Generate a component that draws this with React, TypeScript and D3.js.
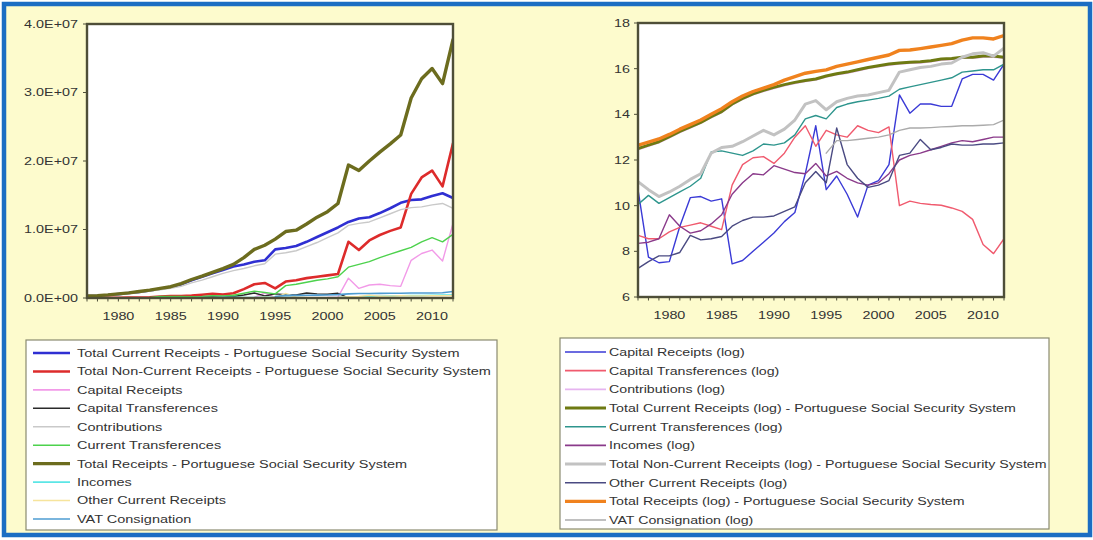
import React from "react";
import * as d3 from "d3";

// ---- categories -------------------------------------------------------------
const YEARS = [
  1977, 1978, 1979, 1980, 1981, 1982, 1983, 1984, 1985, 1986, 1987, 1988,
  1989, 1990, 1991, 1992, 1993, 1994, 1995, 1996, 1997, 1998, 1999, 2000,
  2001, 2002, 2003, 2004, 2005, 2006, 2007, 2008, 2009, 2010, 2011, 2012,
];
const X_TICKS = [1980, 1985, 1990, 1995, 2000, 2005, 2010];

// ---- levels (millions) ------------------------------------------------------
const totalCurrentReceipts = [0.28, 0.33, 0.43, 0.57, 0.72, 0.9, 1.1, 1.35, 1.6, 2.0, 2.6, 3.1, 3.6, 4.1, 4.6, 4.9, 5.3, 5.5, 7.1, 7.3, 7.6, 8.2, 8.9, 9.6, 10.3, 11.1, 11.6, 11.8, 12.4, 13.1, 13.9, 14.3, 14.4, 14.9, 15.3, 14.6];
const totalNonCurrentReceipts = [0.06, 0.05, 0.04, 0.04, 0.05, 0.07, 0.1, 0.22, 0.28, 0.3, 0.36, 0.47, 0.6, 0.5, 0.7, 1.3, 2.0, 2.2, 1.4, 2.4, 2.6, 2.9, 3.1, 3.3, 3.5, 8.2, 7.0, 8.4, 9.2, 9.8, 10.3, 15.2, 17.6, 18.6, 16.3, 22.6];
const capitalReceipts = [0.04, 0, 0, 0, 0.01, 0.03, 0.03, 0.03, 0.03, 0, 0, 0, 0.01, 0.01, 0.01, 0.02, 0.09, 0.73, 0.04, 0.08, 0.04, 0.01, 0.05, 0.07, 0.13, 2.9, 1.4, 1.9, 2.0, 1.8, 1.7, 5.5, 6.5, 7.0, 5.4, 10.9];
const capitalTransferences = [0.006, 0.005, 0.005, 0.007, 0.008, 0.009, 0.01, 0.009, 0.008, 0.05, 0.13, 0.18, 0.19, 0.14, 0.22, 0.44, 0.73, 0.3, 0.6, 0.49, 0.44, 0.73, 0.6, 0.54, 0.69, 0.02, 0.03, 0.02, 0.02, 0.02, 0.02, 0.01, 0.01, 0.004, 0.003, 0.005];
const contributions = [0.25, 0.3, 0.4, 0.52, 0.66, 0.82, 1.0, 1.2, 1.4, 1.7, 2.2, 2.6, 3.1, 3.6, 4.0, 4.3, 4.7, 5.0, 6.4, 6.6, 6.9, 7.5, 8.1, 8.8, 9.5, 10.6, 10.9, 11.1, 11.7, 12.3, 12.9, 13.2, 13.3, 13.6, 13.8, 13.1];
const currentTransferences = [0.02, 0.03, 0.02, 0.03, 0.04, 0.05, 0.08, 0.24, 0.24, 0.22, 0.2, 0.24, 0.33, 0.31, 0.4, 0.7, 1.0, 0.8, 0.6, 1.8, 2.0, 2.3, 2.6, 2.8, 3.1, 4.5, 4.9, 5.3, 5.9, 6.4, 6.9, 7.4, 8.2, 8.8, 8.2, 9.3];
const totalReceipts = [0.3, 0.35, 0.45, 0.6, 0.75, 0.95, 1.15, 1.4, 1.65, 2.1, 2.7, 3.2, 3.75, 4.3, 4.9, 5.9, 7.1, 7.7, 8.6, 9.7, 9.9, 10.8, 11.8, 12.6, 13.8, 19.4, 18.6, 20.0, 21.3, 22.5, 23.8, 29.2, 32.0, 33.5, 31.3, 37.7];
const incomes = [0.004, 0.005, 0.005, 0.015, 0.009, 0.007, 0.007, 0.01, 0.015, 0.036, 0.06, 0.09, 0.085, 0.13, 0.11, 0.094, 0.09, 0.14, 0.08, 0.1, 0.073, 0.06, 0.054, 0.06, 0.09, 0.16, 0.2, 0.22, 0.25, 0.3, 0.34, 0.38, 0.36, 0.4, 0.44, 0.44];
const otherCurrentReceipts = [0.001, 0.002, 0.002, 0.002, 0.003, 0.006, 0.005, 0.005, 0.006, 0.009, 0.011, 0.013, 0.013, 0.014, 0.017, 0.021, 0.06, 0.1, 0.06, 0.66, 0.13, 0.07, 0.05, 0.05, 0.07, 0.2, 0.22, 0.4, 0.25, 0.28, 0.33, 0.31, 0.31, 0.33, 0.33, 0.34];
const vatConsignation = [null, null, null, null, null, null, null, null, null, null, null, null, null, null, null, null, null, null, 0.22, 0.38, 0.38, 0.4, 0.42, 0.44, 0.49, 0.6, 0.66, 0.66, 0.67, 0.69, 0.7, 0.73, 0.73, 0.74, 0.76, 0.94];

const LEVEL_TICKS = [0, 10, 20, 30, 40];
const LEVEL_TICK_LABELS = ["0.0E+00", "1.0E+07", "2.0E+07", "3.0E+07", "4.0E+07"];

// ---- natural logs -----------------------------------------------------------
const capitalReceiptsLog = [10.7, 7.75, 7.5, 7.55, 9.1, 10.35, 10.4, 10.2, 10.3, 7.45, 7.6, 8.0, 8.4, 8.8, 9.3, 9.7, 11.4, 13.5, 10.7, 11.3, 10.5, 9.5, 10.9, 11.1, 11.8, 14.85, 14.05, 14.45, 14.45, 14.35, 14.35, 15.55, 15.75, 15.75, 15.5, 16.2];
const capitalTransferencesLog = [8.7, 8.55, 8.55, 8.85, 9.05, 9.15, 9.25, 9.1, 8.95, 10.9, 11.8, 12.1, 12.15, 11.85, 12.3, 13.0, 13.5, 12.6, 13.3, 13.1, 13.0, 13.5, 13.3, 13.2, 13.45, 10.0, 10.2, 10.1, 10.05, 10.02, 9.9, 9.75, 9.4, 8.3, 7.9, 8.55];
const contributionsLog = [12.45, 12.6, 12.75, 12.97, 13.2, 13.4, 13.6, 13.85, 14.07, 14.4, 14.65, 14.85, 15.0, 15.13, 15.25, 15.35, 15.43, 15.5, 15.63, 15.73, 15.8, 15.9, 16.0, 16.08, 16.15, 16.2, 16.23, 16.25, 16.3, 16.37, 16.4, 16.45, 16.45, 16.5, 16.5, 16.45];
const totalCurrentReceiptsLog = [12.5, 12.65, 12.8, 13.02, 13.25, 13.45, 13.65, 13.9, 14.12, 14.45, 14.7, 14.9, 15.05, 15.18, 15.3, 15.4, 15.48, 15.55, 15.68, 15.78, 15.85, 15.95, 16.05, 16.13, 16.2, 16.25, 16.28, 16.3, 16.35, 16.42, 16.45, 16.5, 16.5, 16.55, 16.55, 16.5];
const currentTransferencesLog = [10.05, 10.45, 10.1, 10.35, 10.6, 10.85, 11.2, 12.35, 12.4, 12.3, 12.2, 12.4, 12.7, 12.65, 12.75, 13.1, 13.8, 13.95, 13.8, 14.3, 14.45, 14.55, 14.62, 14.7, 14.8, 15.1, 15.2, 15.3, 15.4, 15.5, 15.6, 15.85, 15.9, 15.95, 15.95, 16.2];
const incomesLog = [8.35, 8.4, 8.55, 9.6, 9.1, 8.8, 8.9, 9.2, 9.6, 10.5, 11.0, 11.4, 11.35, 11.75, 11.6, 11.45, 11.4, 11.85, 11.3, 11.5, 11.2, 11.0, 10.9, 11.0, 11.4, 12.0, 12.2, 12.3, 12.45, 12.6, 12.75, 12.85, 12.8, 12.9, 13.0, 13.0];
const totalNonCurrentReceiptsLog = [11.05, 10.7, 10.4, 10.6, 10.85, 11.15, 11.4, 12.3, 12.55, 12.6, 12.8, 13.05, 13.3, 13.1, 13.35, 13.75, 14.45, 14.6, 14.2, 14.55, 14.7, 14.8, 14.85, 14.95, 15.05, 15.85, 15.95, 16.05, 16.1, 16.2, 16.25, 16.5, 16.65, 16.7, 16.55, 16.9];
const otherCurrentReceiptsLog = [7.25, 7.55, 7.8, 7.8, 7.95, 8.7, 8.5, 8.55, 8.65, 9.1, 9.35, 9.5, 9.5, 9.55, 9.75, 9.95, 11.0, 11.5, 11.0, 13.4, 11.8, 11.2, 10.8, 10.9, 11.1, 12.2, 12.3, 12.9, 12.45, 12.55, 12.7, 12.65, 12.65, 12.7, 12.7, 12.75];
const totalReceiptsLog = [12.65, 12.78, 12.92, 13.12, 13.35, 13.55, 13.75, 14.0, 14.25, 14.55, 14.8, 15.0, 15.15, 15.3, 15.5, 15.65, 15.8, 15.88, 15.95, 16.1, 16.2, 16.3, 16.4, 16.5, 16.6, 16.8, 16.82, 16.88, 16.95, 17.02, 17.1, 17.25, 17.35, 17.35, 17.3, 17.45];
const vatConsignationLog = [null, null, null, null, null, null, null, null, null, null, null, null, null, null, null, null, null, null, 12.3, 12.85, 12.85, 12.9, 12.95, 13.0, 13.1, 13.3, 13.4, 13.4, 13.42, 13.45, 13.47, 13.5, 13.5, 13.52, 13.55, 13.75];

const LOG_TICKS = [6, 8, 10, 12, 14, 16, 18];
const LOG_TICK_LABELS = ["6", "8", "10", "12", "14", "16", "18"];

// ---- series tables ----------------------------------------------------------
type Series = { name: string; values: (number | null)[]; color: string; width: number };

const levelSeries: Series[] = [
  { name: "Total Current Receipts - Portuguese Social Security System", values: totalCurrentReceipts, color: "#2F2FD2", width: 2.6 },
  { name: "Total Non-Current Receipts - Portuguese Social Security System", values: totalNonCurrentReceipts, color: "#DD2B2B", width: 2.6 },
  { name: "Capital Receipts", values: capitalReceipts, color: "#F29AE8", width: 1.4 },
  { name: "Capital Transferences", values: capitalTransferences, color: "#2A2A2A", width: 1.4 },
  { name: "Contributions", values: contributions, color: "#C9C9C9", width: 1.4 },
  { name: "Current Transferences", values: currentTransferences, color: "#4DD24D", width: 1.4 },
  { name: "Total Receipts - Portuguese Social Security System", values: totalReceipts, color: "#6C6C1E", width: 3.4 },
  { name: "Incomes", values: incomes, color: "#5CE6E6", width: 1.4 },
  { name: "Other Current Receipts", values: otherCurrentReceipts, color: "#F6E49C", width: 1.4 },
  { name: "VAT Consignation", values: vatConsignation, color: "#4E9CD2", width: 1.6 },
];

const logSeries: Series[] = [
  { name: "Capital Receipts (log)", values: capitalReceiptsLog, color: "#3A3AD6", width: 1.4 },
  { name: "Capital Transferences (log)", values: capitalTransferencesLog, color: "#F05A6E", width: 1.4 },
  { name: "Contributions (log)", values: contributionsLog, color: "#E6B4F0", width: 1.4 },
  { name: "Total Current Receipts (log) - Portuguese Social Security System", values: totalCurrentReceiptsLog, color: "#6E7A12", width: 3 },
  { name: "Current Transferences (log)", values: currentTransferencesLog, color: "#2E958D", width: 1.4 },
  { name: "Incomes (log)", values: incomesLog, color: "#8A3A8A", width: 1.4 },
  { name: "Total Non-Current Receipts (log) - Portuguese Social Security System", values: totalNonCurrentReceiptsLog, color: "#C2C2C2", width: 3 },
  { name: "Other Current Receipts (log)", values: otherCurrentReceiptsLog, color: "#4A4A82", width: 1.4 },
  { name: "Total Receipts (log) - Portuguese Social Security System", values: totalReceiptsLog, color: "#F0821E", width: 3.4 },
  { name: "VAT Consignation (log)", values: vatConsignationLog, color: "#ABABAB", width: 1.4 },
];

// ---- drawing ----------------------------------------------------------------
const FONT = "'Liberation Sans', Arial, Helvetica, sans-serif";
const TEXT = "#333333";
const FRAME = "#4E4E38";

type Box = { left: number; right: number; top: number; bottom: number };

function Label(props: { x: number; y: number; anchor?: string; size?: number; sx?: number; children: React.ReactNode }) {
  const { x, y, anchor = "start", size = 11.5, sx = 1.25, children } = props;
  return (
    <text
      transform={`translate(${x},${y}) scale(${sx},1)`}
      textAnchor={anchor}
      dominantBaseline="central"
      fontSize={size}
      fontFamily={FONT}
      fill={TEXT}
    >
      {children}
    </text>
  );
}

function Panel(props: {
  id: string;
  box: Box;
  yDomain: [number, number];
  yTicks: number[];
  yTickLabels: string[];
  series: Series[];
  yLabelGap: number;
}) {
  const { id, box, yDomain, yTicks, yTickLabels, series, yLabelGap } = props;
  const x = d3.scaleLinear().domain([YEARS[0], YEARS[YEARS.length - 1]]).range([box.left, box.right]);
  const y = d3.scaleLinear().domain(yDomain).range([box.bottom, box.top]);
  const line = d3
    .line<number | null>()
    .defined((d) => d != null)
    .x((_, i) => x(YEARS[i]))
    .y((d) => y(d as number));

  return (
    <g>
      <defs>
        <clipPath id={id}>
          <rect x={box.left} y={box.top} width={box.right - box.left} height={box.bottom - box.top} />
        </clipPath>
      </defs>
      <rect x={box.left} y={box.top} width={box.right - box.left} height={box.bottom - box.top} fill="#ffffff" />
      <g clipPath={`url(#${id})`} fill="none" strokeLinejoin="round" strokeLinecap="round">
        {series.map((s) => (
          <path key={s.name} d={line(s.values) || ""} stroke={s.color} strokeWidth={s.width} />
        ))}
      </g>
      <rect
        x={box.left}
        y={box.top}
        width={box.right - box.left}
        height={box.bottom - box.top}
        fill="none"
        stroke={FRAME}
        strokeWidth={2.4}
      />
      {/* yearly ticks */}
      {YEARS.map((yr) => (
        <line key={yr} x1={x(yr)} x2={x(yr)} y1={box.bottom} y2={box.bottom + 3.5} stroke={FRAME} strokeWidth={1} />
      ))}
      {X_TICKS.map((yr) => (
        <Label key={yr} x={x(yr)} y={box.bottom + 18} anchor="middle">
          {yr}
        </Label>
      ))}
      {yTicks.map((v, i) => (
        <g key={v}>
          <line x1={box.left - 4} x2={box.left} y1={y(v)} y2={y(v)} stroke={FRAME} strokeWidth={1} />
          <Label x={box.left - yLabelGap} y={y(v)} anchor="end">
            {yTickLabels[i]}
          </Label>
        </g>
      ))}
    </g>
  );
}

function Legend(props: {
  series: Series[];
  box: Box;
  lineX: [number, number];
  textX: number;
  firstRow: number;
  rowStep: number;
  sx: number;
}) {
  const { series, box, lineX, textX, firstRow, rowStep, sx } = props;
  return (
    <g>
      <rect
        x={box.left}
        y={box.top}
        width={box.right - box.left}
        height={box.bottom - box.top}
        fill="#ffffff"
        stroke="#8A8A70"
        strokeWidth={1.2}
      />
      {series.map((s, i) => {
        const cy = firstRow + i * rowStep;
        return (
          <g key={s.name}>
            <line x1={lineX[0]} x2={lineX[1]} y1={cy} y2={cy} stroke={s.color} strokeWidth={Math.max(s.width, 1.6)} />
            <Label x={textX} y={cy} sx={sx}>
              {s.name}
            </Label>
          </g>
        );
      })}
    </g>
  );
}

export default function App() {
  return (
    <div style={{ position: "absolute", left: 0, top: 0 }}>
      <svg width={1093} height={540} viewBox="0 0 1093 540" style={{ display: "block" }}>
        <rect x={0} y={0} width={1093} height={540} fill="#ffffff" />
        <rect x={4} y={4} width={1086} height={531} fill="#FDFBCD" stroke="#1B6DC3" strokeWidth={4.5} />

        <Panel
          id="clip-levels"
          box={{ left: 87, right: 453, top: 24, bottom: 298 }}
          yDomain={[0, 40]}
          yTicks={LEVEL_TICKS}
          yTickLabels={LEVEL_TICK_LABELS}
          series={levelSeries}
          yLabelGap={9}
        />
        <Panel
          id="clip-logs"
          box={{ left: 638, right: 1004, top: 23, bottom: 297 }}
          yDomain={[6, 18]}
          yTicks={LOG_TICKS}
          yTickLabels={LOG_TICK_LABELS}
          series={logSeries}
          yLabelGap={8}
        />

        <Legend
          series={levelSeries}
          box={{ left: 26, right: 497, top: 340, bottom: 530 }}
          lineX={[33, 70]}
          textX={77}
          firstRow={353}
          rowStep={18.44}
          sx={1.26}
        />
        <Legend
          series={logSeries}
          box={{ left: 560, right: 1049, top: 338, bottom: 529 }}
          lineX={[565, 606]}
          textX={609}
          firstRow={352}
          rowStep={18.67}
          sx={1.235}
        />
      </svg>
    </div>
  );
}
